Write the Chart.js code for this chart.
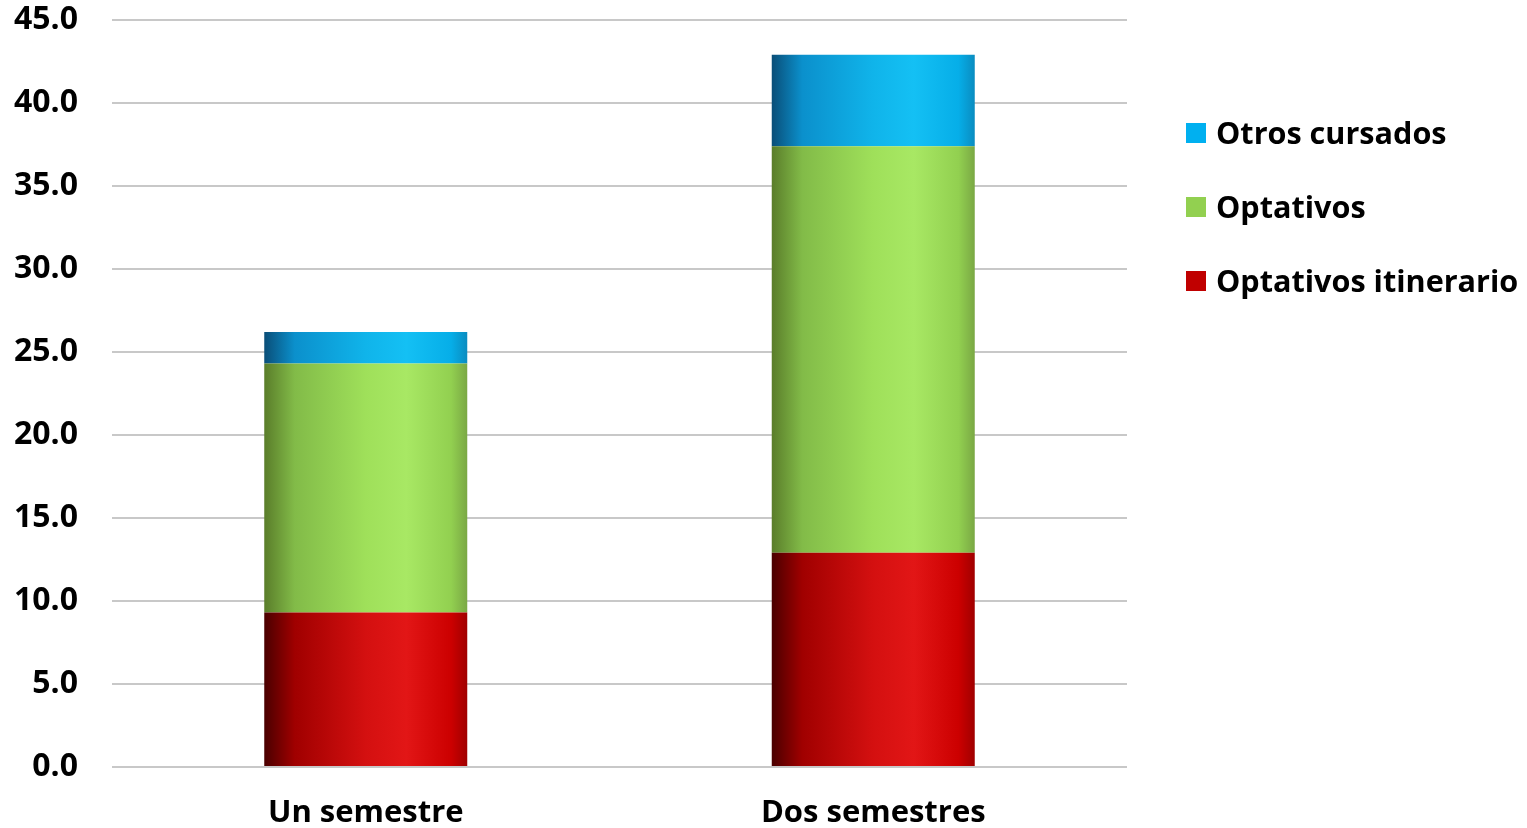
<!DOCTYPE html>
<html>
<head>
<meta charset="utf-8">
<script src="https://cdn.jsdelivr.net/npm/chart.js@4.4.0/dist/chart.umd.min.js"></script>
<style>
  html, body { margin: 0; padding: 0; background: #fff; }
  #wrap { position: relative; width: 1527px; height: 828px; overflow: hidden; }
  #legend { position: absolute; left: 1186px; top: 111px; font-family: "Open Sans", sans-serif; font-weight: bold; font-size: 30.6px; color: #000; }
  #legend div { height: 74px; display: flex; align-items: flex-start; white-space: nowrap; }
  #legend span.box { display: inline-block; width: 20px; height: 20px; margin: 12px 10px 0 0; }
</style>
</head>
<body>
<div id="wrap">
  <canvas id="chart" width="1527" height="828"></canvas>
  <div id="legend"></div>
</div>
<script>
// data
const categories = ['Un semestre', 'Dos semestres'];
const optativosItinerario = [9.3, 12.9];
const optativos = [15.0, 24.5];
const otrosCursados = [1.9, 5.5];
const yTicks = [0, 5, 10, 15, 20, 25, 30, 35, 40, 45];

// flat colours for the legend, stops for the cylinder shading of the bars
const palette = {
    red:   { flat: '#c00000', stops: ['#4a0000', '#a00000', '#d41010', '#e21616', '#cc0000', '#a00000'] },
    green: { flat: '#92d050', stops: ['#5a7d2a', '#82bb48', '#9fe05a', '#a8e864', '#92d050', '#7aa844'] },
    blue:  { flat: '#00b0f0', stops: ['#0a4e78', '#0b90cc', '#10b4ea', '#14c0f4', '#06aee8', '#0a8cc0'] }
};

const BAR_FRACTION = 0.4;

function shade(key) {
    return function (ctx) {
        const chart = ctx.chart;
        const area = chart.chartArea;
        if (!area) return palette[key].flat;
        const xs = chart.scales.x;
        const cx = xs.getPixelForValue(ctx.dataIndex);
        const w = (area.right - area.left) / categories.length * BAR_FRACTION;
        const g = chart.ctx.createLinearGradient(cx - w / 2, 0, cx + w / 2, 0);
        const s = palette[key].stops;
        g.addColorStop(0, s[0]);
        g.addColorStop(0.15, s[1]);
        g.addColorStop(0.5, s[2]);
        g.addColorStop(0.7, s[3]);
        g.addColorStop(0.92, s[4]);
        g.addColorStop(1, s[5]);
        return g;
    };
}

const datasets = [
    { label: 'Optativos itinerario', data: optativosItinerario, key: 'red' },
    { label: 'Optativos', data: optativos, key: 'green' },
    { label: 'Otros cursados', data: otrosCursados, key: 'blue' }
];

const font = { family: '"Open Sans", sans-serif', weight: 'bold' };

new Chart(document.getElementById('chart'), {
    type: 'bar',
    data: {
        labels: categories,
        datasets: datasets.map(d => ({
            label: d.label,
            data: d.data,
            backgroundColor: shade(d.key),
            borderWidth: 0,
            barPercentage: BAR_FRACTION,
            categoryPercentage: 1
        }))
    },
    options: {
        responsive: false,
        animation: false,
        layout: { padding: { top: 20, right: 400, left: 0, bottom: 0 } },
        plugins: { legend: { display: false }, tooltip: { enabled: false } },
        scales: {
            x: {
                stacked: true,
                grid: { display: false, drawTicks: false },
                border: { display: false },
                ticks: { color: '#000', font: { ...font, size: 31 }, padding: 28 },
                afterFit: s => { s.height = 61; s.paddingLeft = 0; s.paddingRight = 0; }
            },
            y: {
                stacked: true,
                min: 0,
                max: 45,
                afterBuildTicks: s => { s.ticks = yTicks.map(v => ({ value: v })); },
                grid: { color: '#c8c8c8', lineWidth: 2, drawTicks: false },
                border: { display: false },
                ticks: {
                    color: '#000',
                    font: { ...font, size: 32 },
                    padding: 34,
                    callback: v => v.toFixed(1)
                },
                afterFit: s => { s.width = 112; s.paddingTop = 0; s.paddingBottom = 0; }
            }
        }
    }
});

// legend on the right, top item = top of the stack
const legend = document.getElementById('legend');
datasets.slice().reverse().forEach(d => {
    const row = document.createElement('div');
    row.innerHTML = '<span class="box" style="background:' + palette[d.key].flat + '"></span>' + d.label;
    legend.appendChild(row);
});
</script>
</body>
</html>
